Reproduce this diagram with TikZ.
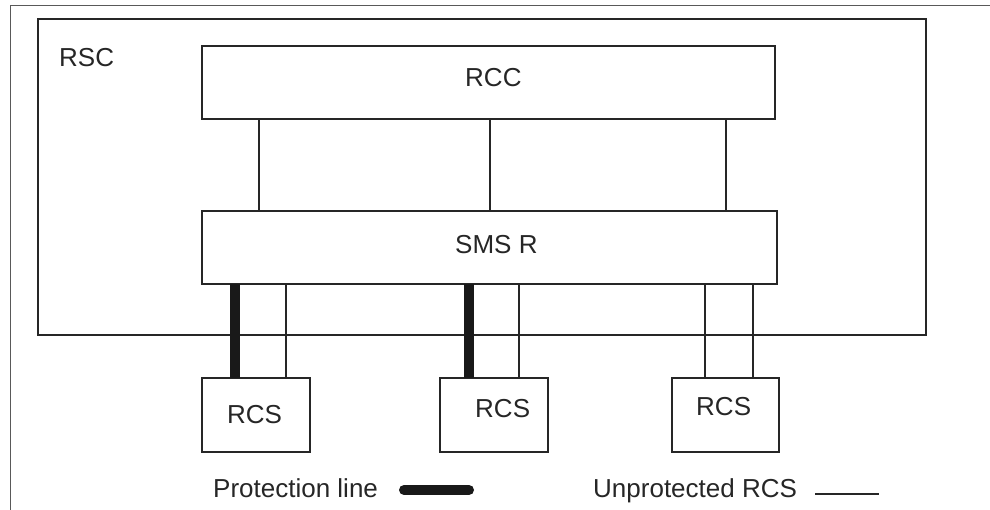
\documentclass[tikz,border=0pt]{standalone}
\usepackage{fontspec}
\setmainfont{Liberation Sans}
\begin{document}
\begin{tikzpicture}[x=1pt,y=-1pt,
  box/.style={draw=black!85, line width=1.8pt, inner sep=0pt, outer sep=0pt, rectangle},
  lbl/.style={inner sep=0pt, anchor=base west, font=\fontsize{26}{30}\selectfont, text=black!85},
  link/.style={draw=black!85, line width=1.6pt},
  prot/.style={draw=black!90, line width=10pt},
  frameline/.style={draw=black!65, line width=1.3pt}]
\useasboundingbox (0,0) rectangle (990,510);
% outer frame
\coordinate (ftop) at (990,5.5);
\coordinate (fcorner) at (10.7,5.5);
\coordinate (fbot) at (10.7,510);
\draw[frameline] (ftop) -- (fcorner) -- (fbot);
% boxes
\node[box, minimum width=888pt, minimum height=316pt] (rsc) at (482,177) {};
\node[box, minimum width=573pt, minimum height=73pt] (rcc) at (488.5,82.5) {};
\node[box, minimum width=575pt, minimum height=73pt] (sms) at (489.5,247.5) {};
\node[box, minimum width=108pt, minimum height=74pt] (rcsA) at (256,415) {};
\node[box, minimum width=108pt, minimum height=74pt] (rcsB) at (494,415) {};
\node[box, minimum width=107pt, minimum height=74pt] (rcsC) at (725.5,415) {};
% labels
\node[lbl] (tRSC) at (59,67) {RSC};
\node[lbl] (tRCC) at (465,87) {RCC};
\node[lbl] (tSMS) at (455,254) {SMS R};
\node[lbl] (tA) at (227,423) {RCS};
\node[lbl] (tB) at (475,417) {RCS};
\node[lbl] (tC) at (696,415) {RCS};
\node[lbl] (tProt) at (213,497) {Protection line};
\node[lbl] (tUnp) at (593,497) {Unprotected RCS};
% RCC to SMS R links
\draw[link] ([xshift=57pt]rcc.south west) -- ([xshift=57pt]sms.north west);
\draw[link] ([xshift=288pt]rcc.south west) -- ([xshift=288pt]sms.north west);
\draw[link] ([xshift=524pt]rcc.south west) -- ([xshift=524pt]sms.north west);
% SMS R to RCS
\draw[prot] ([xshift=33pt]sms.south west) -- ([xshift=33pt]rcsA.north west);
\draw[link] ([xshift=84pt]sms.south west) -- ([xshift=84pt]rcsA.north west);
\draw[prot] ([xshift=267pt]sms.south west) -- ([xshift=29pt]rcsB.north west);
\draw[link] ([xshift=317pt]sms.south west) -- ([xshift=79pt]rcsB.north west);
\draw[link] ([xshift=503pt]sms.south west) -- ([xshift=33pt]rcsC.north west);
\draw[link] ([xshift=551pt]sms.south west) -- ([xshift=81pt]rcsC.north west);
% legend
\coordinate (legPa) at (404,490);
\coordinate (legPb) at (469,490);
\draw[prot, line cap=round] (legPa) -- (legPb);
\coordinate (legUa) at (815,494);
\coordinate (legUb) at (879,494);
\draw[link] (legUa) -- (legUb);
\end{tikzpicture}
\end{document}
